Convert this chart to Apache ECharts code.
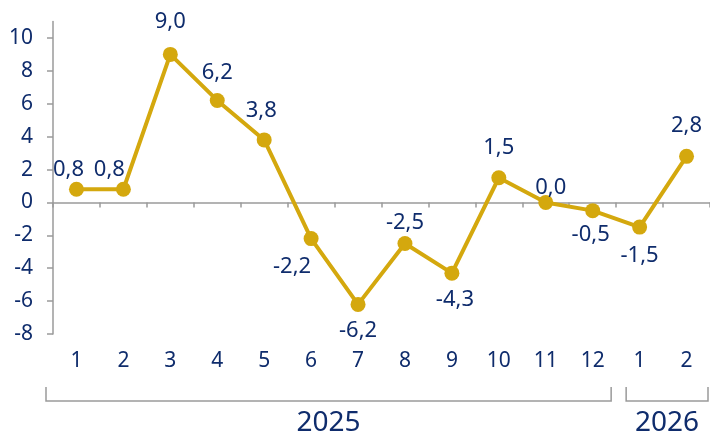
<!DOCTYPE html>
<html>
<head>
<meta charset="utf-8">
<script src="https://cdn.jsdelivr.net/npm/echarts@6/dist/echarts.min.js"></script>
<style>
html,body{margin:0;padding:0;background:#fff;}
#chart{width:710px;height:435px;}
</style>
</head>
<body>
<div id="chart"></div>
<script>
const months = ['1','2','3','4','5','6','7','8','9','10','11','12','1','2'];
const values = [0.8, 0.8, 9.0, 6.2, 3.8, -2.2, -6.2, -2.5, -4.3, 1.5, 0.0, -0.5, -1.5, 2.8];
const years = ['2025', '2026'];
const yearCounts = [12, 2];
const yTicks = [-8, -6, -4, -2, 0, 2, 4, 6, 8, 10];

// label placement (offset of label centre from the point)
const labelOffsets = [[-8,-20],[-14,-20],[0,-33],[0,-28],[-3,-29],[-19,28],[0,26],[0,-21],[3,27],[0,-30],[5,-15],[-2,24],[0,29],[0,-31]];

const NAVY = '#0f2c6c';
const GOLD = '#d4a80e';
const GREY = '#9a9a9a';
const FONT = 'Noto Sans';

const chart = echarts.init(document.getElementById('chart'), null, {renderer:'canvas'});

const fmt = v => v.toFixed(1).replace('.', ',');

const option = {
  animation: false,
  backgroundColor: '#fff',
  textStyle: {fontFamily: FONT},
  grid: {left: 53, right: 0, top: 21.5, bottom: 101, containLabel: false},
  xAxis: [
    {
      type: 'category', data: months, position: 'bottom', boundaryGap: true,
      axisLine: {show: true, onZero: true, lineStyle: {color: GREY, width: 1.5}},
      axisTick: {show: true, alignWithLabel: false, inside: false, length: 5, lineStyle: {color: GREY, width: 1.5}},
      axisLabel: {show: false}, splitLine: {show: false}
    },
    {
      type: 'category', data: months, position: 'bottom', boundaryGap: true,
      axisLine: {show: false, onZero: false}, axisTick: {show: false},
      axisLabel: {show: true, color: NAVY, fontSize: 21, fontFamily: FONT, margin: 17, interval: 0},
      splitLine: {show: false}
    }
  ],
  yAxis: {
    type: 'value', min: -8, max: 11,
    axisLine: {show: true, lineStyle: {color: GREY, width: 1.5}},
    axisTick: {show: true, length: 6, customValues: yTicks, lineStyle: {color: GREY, width: 1.5}},
    axisLabel: {show: true, customValues: yTicks, color: NAVY, fontSize: 21, fontFamily: FONT, margin: 20},
    splitLine: {show: false}
  },
  series: [{
    type: 'line', xAxisIndex: 0,
    data: values.map((v, i) => ({
      value: v,
      label: {show: true, position: 'inside', offset: labelOffsets[i], formatter: () => fmt(v)}
    })),
    symbol: 'circle', symbolSize: 15,
    lineStyle: {color: GOLD, width: 4},
    itemStyle: {color: GOLD},
    label: {color: NAVY, fontSize: 22, fontFamily: FONT},
    z: 5
  }]
};
chart.setOption(option);

// brackets for year groups, computed from the axis scale
function drawBrackets(){
  const c0 = chart.convertToPixel({xAxisIndex: 0}, 0);
  const c1 = chart.convertToPixel({xAxisIndex: 0}, 1);
  const band = c1 - c0;
  const bottomY = chart.convertToPixel({yAxisIndex: 0}, -8);
  const yTop = bottomY + 53, yBot = bottomY + 67, yText = bottomY + 89;
  const elements = [];
  let start = 0;
  years.forEach((yr, gi) => {
    const n = yearCounts[gi];
    const leftB = c0 - band / 2 + start * band;
    const rightB = c0 - band / 2 + (start + n) * band;
    const x1 = leftB + (gi === 0 ? -7 : 10);
    const x2 = rightB + (gi === years.length - 1 ? -2 : -5);
    elements.push({
      type: 'polyline', silent: true,
      shape: {points: [[x1, yTop], [x1, yBot], [x2, yBot], [x2, yTop]]},
      style: {stroke: GREY, lineWidth: 1.5, fill: null}
    });
    elements.push({
      type: 'text', silent: true,
      x: (x1 + x2) / 2, y: yText,
      style: {text: yr, fill: NAVY, font: '28px "' + FONT + '"', align: 'center', verticalAlign: 'middle'}
    });
    start += n;
  });
  chart.setOption({graphic: {elements: elements}});
}
drawBrackets();
</script>
</body>
</html>
